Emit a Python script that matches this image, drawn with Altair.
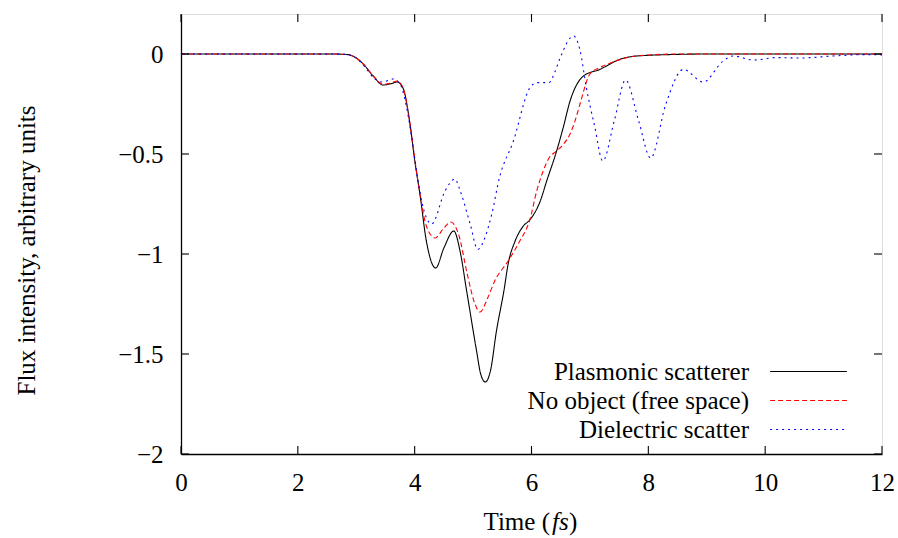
import altair as alt
import pandas as pd

# ---------------- data ----------------
series_names = ["Plasmonic scatterer", "No object (free space)", "Dielectric scatter"]

time_plasmonic = [0, 1, 2, 2.6, 2.85, 3.0, 3.12, 3.29, 3.46, 3.6, 3.70, 3.8, 3.92, 4.0, 4.09, 4.2,
                  4.36, 4.5, 4.67, 4.78, 4.89, 5.06, 5.13, 5.21, 5.3, 5.40, 5.53, 5.60, 5.72, 5.86,
                  5.97, 6.15, 6.26, 6.43, 6.55, 6.66, 6.78, 6.89, 7.17, 7.51, 7.8, 8.5, 9, 10, 11, 12]
flux_plasmonic = [0, 0, 0, 0, -0.003, -0.02, -0.05, -0.11, -0.155, -0.148, -0.14, -0.17, -0.35, -0.53,
                  -0.70, -0.935, -1.07, -0.97, -0.885, -0.99, -1.185, -1.485, -1.60, -1.64, -1.58,
                  -1.385, -1.18, -1.05, -0.935, -0.86, -0.83, -0.735, -0.635, -0.485, -0.36, -0.235,
                  -0.15, -0.11, -0.077, -0.027, -0.01, -0.002, 0, 0, 0, 0]

time_free = [0, 1, 2, 2.6, 2.85, 3.0, 3.12, 3.29, 3.46, 3.6, 3.70, 3.8, 3.92, 4.0, 4.09, 4.2, 4.35,
             4.5, 4.62, 4.75, 4.9, 5.02, 5.12, 5.25, 5.37, 5.6, 5.8, 5.97, 6.09, 6.2, 6.3, 6.43, 6.55,
             6.66, 6.75, 6.83, 7.0, 7.17, 7.4, 7.63, 8.0, 8.5, 9, 10, 11, 12]
flux_free = [0, 0, 0, 0, -0.003, -0.02, -0.05, -0.11, -0.152, -0.145, -0.135, -0.17, -0.35, -0.52,
             -0.70, -0.86, -0.92, -0.87, -0.84, -0.9, -1.1, -1.24, -1.29, -1.22, -1.135, -1.035,
             -0.935, -0.83, -0.685, -0.585, -0.52, -0.485, -0.45, -0.40, -0.33, -0.25, -0.10,
             -0.068, -0.04, -0.018, -0.005, 0, 0, 0, 0, 0]

time_dielectric = [0, 1, 2, 2.6, 2.85, 3.0, 3.15, 3.3, 3.45, 3.63, 3.75, 3.85, 3.95, 4.05, 4.12, 4.29,
                   4.52, 4.69, 4.78, 4.95, 5.08, 5.2, 5.32, 5.45, 5.69, 5.97, 6.1, 6.3, 6.4, 6.49,
                   6.72, 6.83, 6.94, 7.08, 7.22, 7.42, 7.61, 7.83, 8.04, 8.3, 8.6, 8.94, 9.28, 9.45,
                   9.8, 10.2, 10.6, 11.16, 11.7, 12]
flux_dielectric = [0, 0, 0, 0, -0.003, -0.02, -0.065, -0.12, -0.14, -0.125, -0.15, -0.25, -0.42, -0.62,
                   -0.735, -0.85, -0.685, -0.625, -0.685, -0.85, -0.977, -0.92, -0.80, -0.62, -0.435,
                   -0.17, -0.143, -0.143, -0.09, -0.02, 0.09, 0.02, -0.17, -0.36, -0.535, -0.33,
                   -0.13, -0.33, -0.52, -0.25, -0.077, -0.14, -0.035, -0.01, -0.03, -0.018, -0.02,
                   -0.01, -0.003, -0.005]

x_ticks = [0, 2, 4, 6, 8, 10, 12]
y_ticks = [-2, -1.5, -1, -0.5, 0]

# ---------------- build tables ----------------
rows = []
for name, ts, fs in [(series_names[0], time_plasmonic, flux_plasmonic),
                     (series_names[1], time_free, flux_free),
                     (series_names[2], time_dielectric, flux_dielectric)]:
    for t, f in zip(ts, fs):
        rows.append({"series": name, "time": t, "flux": f})
df = pd.DataFrame(rows)
xt = pd.DataFrame({"v": x_ticks})
yt = pd.DataFrame({"v": y_ticks})

W, H = 701, 440
FONT = "Liberation Serif"
FS = 25
TICK = 8

x_scale = alt.Scale(domain=[0, 12], nice=False, zero=False)
y_scale = alt.Scale(domain=[-2, 0.2], nice=False, zero=False)

# legend: long horizontal line sample drawn to the right of right-aligned labels
legend_kw = dict(title=None, orient="none", legendX=615, legendY=345,
                 symbolType="M-10,0H10", symbolSize=59, symbolStrokeWidth=1.1,
                 labelAlign="right", labelOffset={"expr": "-72"}, labelFont=FONT,
                 labelFontSize=FS, labelColor="black", labelLimit=500,
                 rowPadding=3)

lines = alt.Chart(df).mark_line(strokeWidth=1.1, interpolate="monotone").encode(
    x=alt.X("time:Q", scale=x_scale,
            axis=alt.Axis(values=x_ticks, format="~g", title=None, tickSize=0, labelPadding=16,
                          labelFont=FONT, labelFontSize=FS, labelColor="black",
                          domainColor="black", domainWidth=1.3, grid=False, labelFlush=False)),
    y=alt.Y("flux:Q", scale=y_scale,
            axis=alt.Axis(values=y_ticks, format=".1~f", title="Flux intensity, arbitrary units",
                          tickSize=0, labelPadding=18, labelFont=FONT, labelFontSize=FS,
                          labelColor="black", domainColor="black", domainWidth=1.3, grid=False,
                          labelFlush=False, titleFont=FONT, titleFontSize=FS, titleColor="black",
                          titleFontWeight="normal", titleX=-155, titleY=236, titleAngle=270,
                          titleBaseline="middle", titleAlign="center")),
    color=alt.Color("series:N",
                    scale=alt.Scale(domain=series_names, range=["#000000", "#ff0000", "#0000ff"]),
                    legend=alt.Legend(**legend_kw)),
    strokeDash=alt.StrokeDash("series:N",
                              scale=alt.Scale(domain=series_names, range=[[1, 0], [5, 3], [2, 4]]),
                              legend=alt.Legend(**legend_kw)),
)

# inward ticks on all four sides (gnuplot style)
tick_style = dict(color="black", strokeWidth=1.1)
bottom_ticks = alt.Chart(xt).mark_rule(**tick_style).encode(
    x=alt.X("v:Q", scale=x_scale), y=alt.value(H), y2=alt.value(H - TICK))
top_ticks = alt.Chart(xt).mark_rule(**tick_style).encode(
    x=alt.X("v:Q", scale=x_scale), y=alt.value(0), y2=alt.value(TICK))
left_ticks = alt.Chart(yt).mark_rule(**tick_style).encode(
    y=alt.Y("v:Q", scale=y_scale), x=alt.value(0), x2=alt.value(TICK))
right_ticks = alt.Chart(yt).mark_rule(**tick_style).encode(
    y=alt.Y("v:Q", scale=y_scale), x=alt.value(W), x2=alt.value(W - TICK))

# x-axis title with italic unit
title_y = 508
t1 = alt.Chart(pd.DataFrame({"t": ["Time ("]})).mark_text(
    font=FONT, fontSize=FS, align="right", baseline="middle", color="black").encode(
    text="t:N", x=alt.value(369), y=alt.value(title_y))
t2 = alt.Chart(pd.DataFrame({"t": ["fs"]})).mark_text(
    font=FONT, fontSize=FS, fontStyle="italic", align="left", baseline="middle", color="black").encode(
    text="t:N", x=alt.value(371), y=alt.value(title_y))
t3 = alt.Chart(pd.DataFrame({"t": [")"]})).mark_text(
    font=FONT, fontSize=FS, align="left", baseline="middle", color="black").encode(
    text="t:N", x=alt.value(388), y=alt.value(title_y))

chart = alt.layer(lines, bottom_ticks, top_ticks, left_ticks, right_ticks, t1, t2, t3).properties(
    width=W, height=H,
    autosize=alt.AutoSizeParams(type="none"),
    padding={"left": 181, "top": 14, "right": 16, "bottom": 84},
).configure_view(stroke="black", strokeWidth=1.3).configure(background="white")

chart.save("out.html", embed_options={"renderer": "svg", "actions": False})
